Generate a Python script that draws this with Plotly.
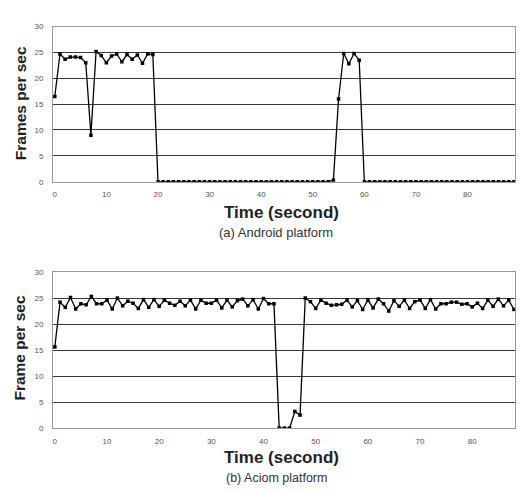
import plotly.graph_objects as go

# Android platform (frames per second, one sample per second)
android_t = list(range(0, 90))
android_fps = ([16.5, 24.7, 23.7, 24.1, 24.1, 24.0, 23.0, 9.0, 25.2, 24.4,
                23.0, 24.3, 24.7, 23.2, 24.6, 23.7, 24.5, 22.9, 24.7, 24.6]
               + [0.0] * 34
               + [0.3, 16.0, 24.8, 22.8, 24.8, 23.5]
               + [0.0] * 30)

# Aciom platform
aciom_t = list(range(0, 89))
aciom_fps = [15.6, 24.2, 23.2, 25.1, 22.9, 23.9, 23.7, 25.3, 23.9, 23.9,
             24.6, 22.9, 25.0, 23.5, 24.4, 24.0, 23.0, 24.7, 23.2, 24.7,
             23.4, 24.6, 24.0, 23.6, 24.4, 23.5, 24.6, 22.9, 24.6, 24.0,
             24.0, 24.6, 23.1, 24.6, 23.3, 24.5, 24.8, 23.5, 24.7, 22.9,
             24.9, 23.9, 23.9, 0.0, 0.0, 0.0, 3.2, 2.5, 25.0, 24.3,
             23.0, 24.6, 24.0, 23.6, 23.7, 23.8, 24.6, 23.3, 24.5, 22.8,
             24.6, 23.1, 24.8, 23.9, 22.5, 24.5, 23.4, 24.6, 23.0, 24.3,
             24.6, 23.0, 24.7, 22.9, 23.9, 23.9, 24.2, 24.2, 23.8, 23.9,
             23.3, 24.0, 23.0, 24.6, 23.4, 24.8, 23.5, 24.6, 22.8]

x_ticks = [0, 10, 20, 30, 40, 50, 60, 70, 80]
y_ticks = [0, 5, 10, 15, 20, 25, 30]

W, H = 528, 492
FONT = "Liberation Sans, Arial, sans-serif"

fig = go.Figure()
fig.add_trace(go.Scatter(x=android_t, y=android_fps, mode="lines+markers",
                         line=dict(color="black", width=1.3),
                         marker=dict(symbol="square", size=3.5, color="black"),
                         xaxis="x", yaxis="y", showlegend=False))
fig.add_trace(go.Scatter(x=aciom_t, y=aciom_fps, mode="lines+markers",
                         line=dict(color="black", width=1.3),
                         marker=dict(symbol="square", size=3.5, color="black"),
                         xaxis="x2", yaxis="y2", showlegend=False))

def px_x(p):
    return p / W

def px_y(p):
    return 1 - p / H

common_x = dict(showgrid=False, zeroline=False, showline=True, linecolor="#999",
                linewidth=1, mirror=True, tickvals=x_ticks, ticks="",
                tickfont=dict(size=8, color="#555", family=FONT),
                ticklabelstandoff=5)
common_y = dict(showgrid=True, gridcolor="#3a3a3a", gridwidth=1.3, zeroline=False,
                showline=True, linecolor="#999", linewidth=1, mirror=True,
                tickvals=y_ticks, range=[0, 30], ticks="",
                tickfont=dict(size=8, color="#555", family=FONT),
                ticklabelstandoff=7)

fig.update_layout(
    width=W, height=H, margin=dict(l=0, r=0, t=0, b=0),
    paper_bgcolor="white", plot_bgcolor="white",
    font=dict(family=FONT),
    xaxis=dict(common_x, domain=[px_x(53), px_x(515)], range=[-0.35, 89.2], anchor="y"),
    yaxis=dict(common_y, domain=[px_y(181), px_y(23)], anchor="x"),
    xaxis2=dict(common_x, domain=[px_x(53), px_x(515)], range=[-0.35, 88.2], anchor="y2"),
    yaxis2=dict(common_y, domain=[px_y(432), px_y(273)], anchor="x2"),
)

ann = [
    ("<b>Frames per sec</b>", 20, 101, 15.5, "#222", -90),
    ("<b>Time (second)</b>", 281, 212, 17, "#222", 0),
    ("(a) Android platform", 276, 233, 13, "#333", 0),
    ("<b>Frame per sec</b>", 20, 351, 15.5, "#222", -90),
    ("<b>Time (second)</b>", 281, 462, 17, "#222", 0),
    ("(b) Aciom platform", 276, 483, 12.5, "#333", 0),
]
for text, x, y, size, color, ang in ann:
    fig.add_annotation(text=text, x=px_x(x), y=px_y(y), xref="paper", yref="paper",
                       showarrow=False, xanchor="center", yanchor="middle",
                       textangle=ang, font=dict(size=size, color=color, family=FONT))

fig.write_html("out.html")
